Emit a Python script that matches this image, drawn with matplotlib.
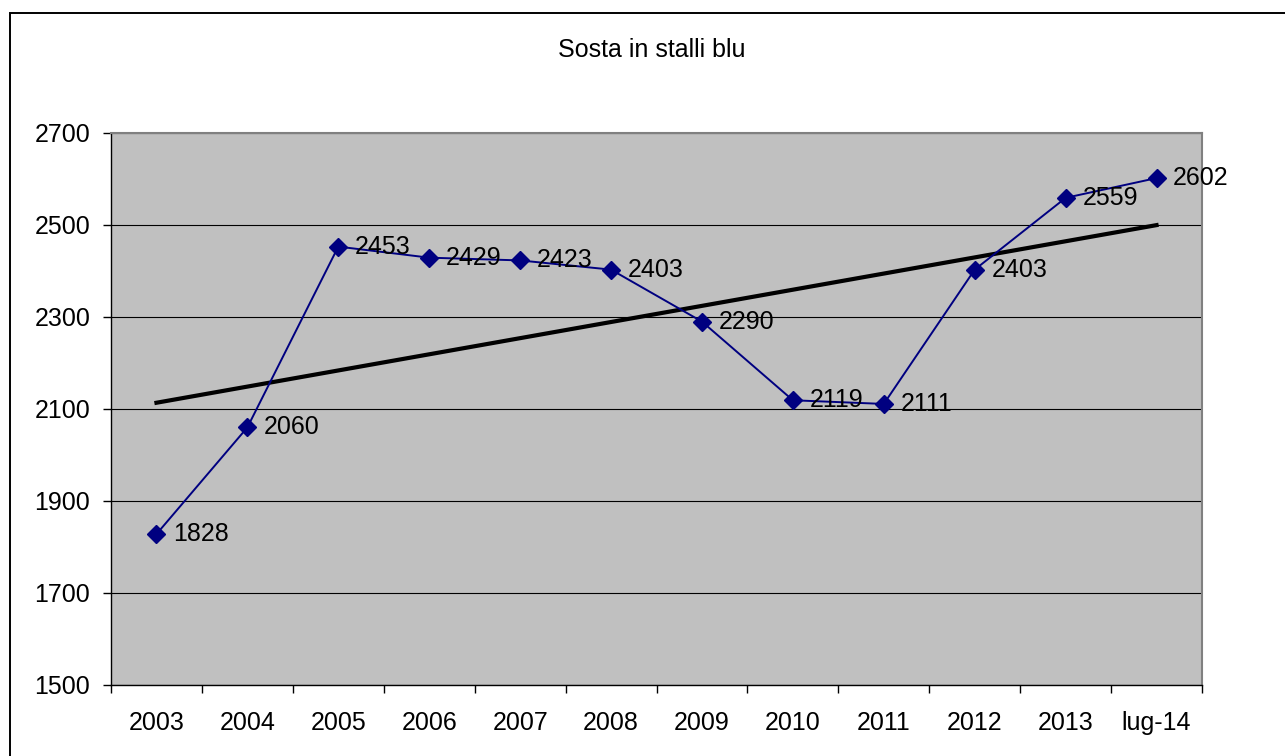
import numpy as np
import matplotlib
matplotlib.use("Agg")
import matplotlib.pyplot as plt
from matplotlib.patches import Rectangle

# data
categories = ['2003', '2004', '2005', '2006', '2007', '2008',
              '2009', '2010', '2011', '2012', '2013', 'lug-14']
values = [1828, 2060, 2453, 2429, 2423, 2403, 2290, 2119, 2111, 2403, 2559, 2602]
yticks = [1500, 1700, 1900, 2100, 2300, 2500, 2700]

plt.rcParams['font.family'] = ['Liberation Sans', 'DejaVu Sans']
FS = 18

fig = plt.figure(figsize=(12.85, 7.56), dpi=100)
fig.patch.set_facecolor('white')
# outer frame of the chart area (runs off the right and bottom edges)
fig.patches.append(Rectangle((9.5 / 1285, -0.05), 1.1, 1.05 - 13 / 756,
                             transform=fig.transFigure, fill=False,
                             edgecolor='black', linewidth=1.4))

ax = fig.add_axes([111 / 1285, 71 / 756, 1091 / 1285, 552 / 756])
ax.set_facecolor('#C0C0C0')

x = np.arange(len(categories))
ax.plot(x, values, color='#000080', linewidth=1.4, marker='D', markersize=9.5,
        markerfacecolor='#000080', markeredgecolor='#000080', zorder=4)

# linear trend line
k, b = np.polyfit(x, values, 1)
ax.plot(x, k * x + b, color='black', linewidth=3, zorder=3)

for xi, v in zip(x, values):
    ax.annotate(str(v), (xi, v), xytext=(12, 0), textcoords='offset points',
                va='center', ha='left', fontsize=FS, zorder=5, clip_on=False)

ax.set_xlim(-0.5, len(categories) - 0.5)
ax.set_ylim(1500, 2700)
ax.set_yticks(yticks)
ax.set_yticklabels([str(t) for t in yticks], fontsize=FS)
ax.set_xticks(x)
ax.set_xticklabels(categories, fontsize=FS)
ax.set_xticks(np.arange(-0.5, len(categories), 1), minor=True)
ax.tick_params(axis='x', which='major', length=0, pad=19)
ax.tick_params(axis='x', which='minor', length=5.5, direction='out', width=1)
ax.tick_params(axis='y', length=6, direction='out', pad=9, width=1)
ax.yaxis.grid(True, color='black', linewidth=0.8)
ax.set_axisbelow(True)
for s in ax.spines.values():
    s.set_color('#808080')
    s.set_linewidth(1.5)
ax.spines['left'].set_color('black')
ax.spines['left'].set_linewidth(1)
ax.spines['bottom'].set_color('black')
ax.spines['bottom'].set_linewidth(1)

fig.text(652 / 1285, 1 - 50 / 756, 'Sosta in stalli blu', ha='center', va='center',
         fontsize=FS)

fig.savefig('out.png', dpi=100)
